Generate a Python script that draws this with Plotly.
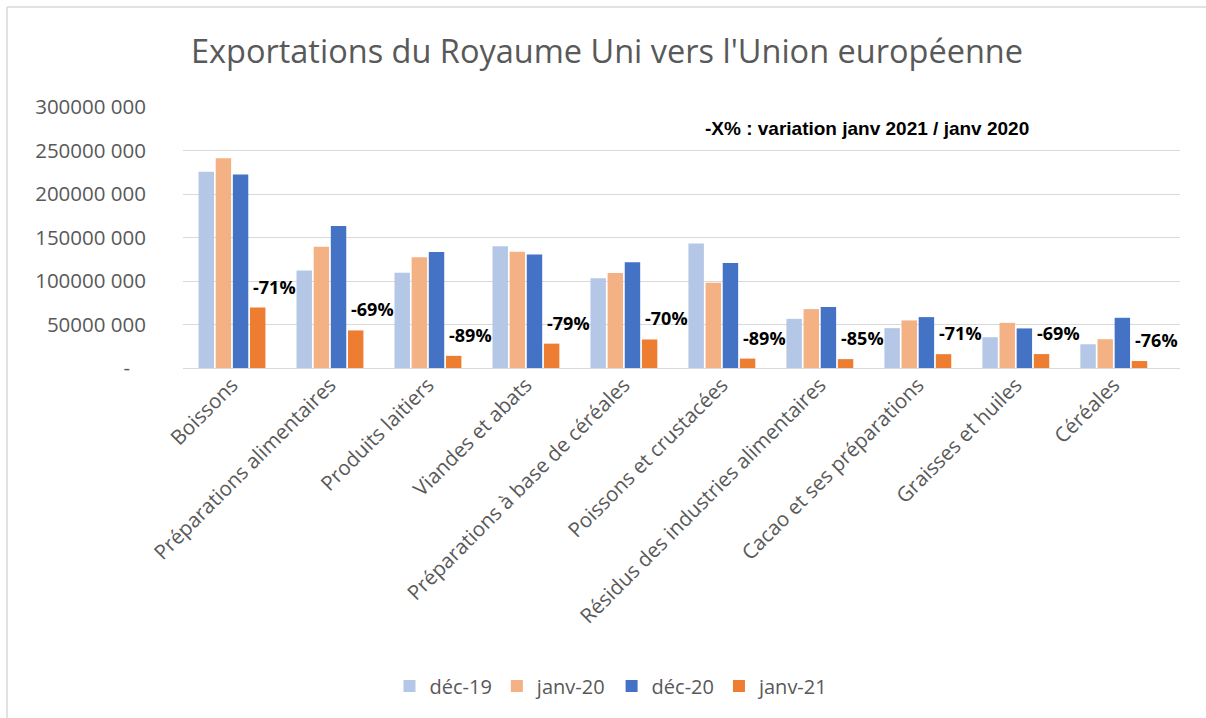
import plotly.graph_objects as go

categories = ["Boissons", "Préparations alimentaires", "Produits laitiers", "Viandes et abats",
              "Préparations à base de céréales", "Poissons et crustacées",
              "Résidus des industries alimentaires", "Cacao et ses préparations",
              "Graisses et huiles", "Céréales"]
dec19 = [225.5e6, 112e6, 109.6e6, 140e6, 103.2e6, 143e6, 56.5e6, 45.8e6, 35.4e6, 27.3e6]
janv20 = [241e6, 139.3e6, 127.4e6, 133.5e6, 109.3e6, 98.1e6, 67.7e6, 54.7e6, 51.9e6, 33.1e6]
dec20 = [222.4e6, 163.2e6, 133.2e6, 130.4e6, 121.6e6, 120.8e6, 70e6, 58.5e6, 45.5e6, 57.7e6]
janv21 = [69.5e6, 43.2e6, 14e6, 28e6, 32.8e6, 10.8e6, 10.2e6, 15.9e6, 16e6, 8e6]
variation = ["-71%", "-69%", "-89%", "-79%", "-70%", "-89%", "-85%", "-71%", "-69%", "-76%"]
series_names = ["déc-19", "janv-20", "déc-20", "janv-21"]
series_colors = ["#B4C7E7", "#F4B183", "#4472C4", "#ED7D31"]
tick_vals = [0, 50e6, 100e6, 150e6, 200e6, 250e6, 300e6]
tick_text = ["-\u00a0\u00a0\u00a0", "50000 000", "100000 000", "150000 000", "200000 000",
             "250000 000", "300000 000"]

GRAY = "#595959"
FONT = "'Open Sans', Lato, sans-serif"

fig = go.Figure()
for name, vals, col in zip(series_names, [dec19, janv20, dec20, janv21], series_colors):
    fig.add_trace(go.Bar(name=name, x=categories, y=vals, marker_color=col,
                         marker_line_width=0))

bargap = 0.3
slot = (1 - bargap) / 4
off4 = -0.5 + bargap / 2 + slot * 3.5
for i, (v, t) in enumerate(zip(janv21, variation)):
    fig.add_annotation(x=i + off4, y=v, text=f"<b>{t}</b>", showarrow=False,
                       xref="x", yref="y", xanchor="center", yanchor="bottom",
                       xshift=17, yshift=7,
                       font=dict(family=FONT, size=18, color="#000000"))

fig.add_annotation(x=(867 - 183) / 997, y=(368 - 128) / 261, xref="paper", yref="paper",
                   text="<b>-X% : variation janv 2021 / janv 2020</b>", showarrow=False,
                   xanchor="center", yanchor="middle",
                   font=dict(family="'Liberation Sans', Arial, sans-serif", size=19, color="#000000"))

# chart frame (left and top edges)
fig.add_shape(type="line", xref="paper", yref="paper",
              x0=(7 - 183) / 997, x1=(7 - 183) / 997, y0=(368 - 7) / 261, y1=(368 - 720) / 261,
              line=dict(color="#d9d9d9", width=1.5))
fig.add_shape(type="line", xref="paper", yref="paper",
              x0=(7 - 183) / 997, x1=(1210 - 183) / 997, y0=(368 - 7) / 261, y1=(368 - 7) / 261,
              line=dict(color="#d9d9d9", width=1.5))

fig.update_layout(
    width=1206, height=718,
    margin=dict(l=183, r=26, t=107, b=350),
    paper_bgcolor="white", plot_bgcolor="white",
    barmode="group", bargap=bargap, bargroupgap=0.1,
    font=dict(family=FONT, color=GRAY),
    title=dict(text="Exportations du Royaume Uni vers l'Union européenne",
               x=607 / 1206, xanchor="center", y=1 - 52 / 718, yanchor="middle",
               font=dict(family=FONT, size=32.5, color=GRAY)),
    legend=dict(orientation="h", x=(612 - 183) / 997, xanchor="center",
                y=(368 - 686) / 261, yanchor="middle",
                font=dict(family=FONT, size=20, color=GRAY),
                itemwidth=30, traceorder="normal"),
    showlegend=True,
)
fig.update_xaxes(type="category", tickangle=-45, showgrid=False, showline=False,
                 tickfont=dict(family=FONT, size=20.5, color=GRAY), ticks="")
fig.update_yaxes(range=[0, 300e6], tickvals=tick_vals, ticktext=tick_text,
                 showgrid=True, gridcolor="#d9d9d9", gridwidth=1.3,
                 zeroline=True, zerolinecolor="#d9d9d9", zerolinewidth=1.3,
                 showline=False, ticks="", ticklabelstandoff=36,
                 tickfont=dict(family=FONT, size=20.5, color=GRAY))

fig.write_html("out.html", config={"displayModeBar": False},
               post_script="document.body.style.margin='0';")
